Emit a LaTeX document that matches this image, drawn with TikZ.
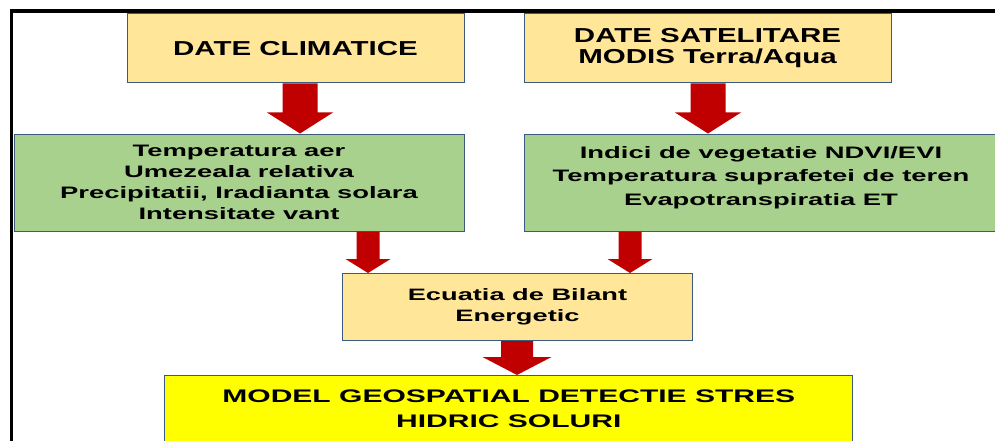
\documentclass[tikz,border=0pt]{standalone}
\usepackage{fontspec}
\setmainfont{Liberation Sans}[FakeStretch=1.65]
\newfontfamily\headfamily{Liberation Sans}[FakeStretch=1.46]
\usetikzlibrary{calc}

\definecolor{boxbeige}{HTML}{FFE699}
\definecolor{boxgreen}{HTML}{A9D18E}
\definecolor{boxyellow}{HTML}{FFFF00}
\definecolor{arrowred}{HTML}{C00000}
\definecolor{boxline}{HTML}{3B5A80}

% Fat red arrow: column, from node, to node, shaft half width, head half width, head length
\newcommand{\redarrow}[6]{%
  \fill[arrowred]
    ($(#2.south -| #1)+(-#4,0)$) -- ($(#2.south -| #1)+(#4,0)$)
    -- ($(#3.north -| #1)+(#4,-#6)$) -- ($(#3.north -| #1)+(#5,-#6)$)
    -- (#3.north -| #1) -- ($(#3.north -| #1)+(-#5,-#6)$)
    -- ($(#3.north -| #1)+(-#4,-#6)$) -- cycle;
}

\begin{document}
\begin{tikzpicture}[x=1pt,y=-1pt,
  box/.style={draw=boxline, line width=1pt, align=center, inner sep=0pt},
  headfont/.style={font=\headfamily\fontsize{20.2}{21}\selectfont\bfseries},
  listfont/.style={font=\fontsize{16.6}{#1}\selectfont\bfseries}]

  % Page
  \useasboundingbox (0,0) rectangle (995,441);
  \clip (0,0) rectangle (995,441);

  % Frame
  \draw[line width=3.5pt] (11.3,450) -- (11.3,10.8) -- (1000,10.8);

%%%%%%%%%%%%%%%%%%%%%%%%%%%%%%%%%%%%%%%%%%
  % Data sources
  \node[box, headfont, fill=boxbeige, minimum width=337pt, minimum height=69pt]
    (climate) at (295.5,48.5) {DATE CLIMATICE};
  \node[box, headfont, fill=boxbeige, minimum width=367pt, minimum height=69pt]
    (satellite) at (707.5,48.5) {DATE SATELITARE\\MODIS Terra/Aqua};

  % Parameters
  \node[box, listfont=20.9, fill=boxgreen, minimum width=450pt, minimum height=97pt]
    (meteo) at (239,182.5)
    {Temperatura aer\\Umezeala relativa\\Precipitatii, Iradianta solara\\Intensitate vant};
  \node[box, listfont=23.3, fill=boxgreen, minimum width=474pt, minimum height=97pt]
    (indices) at (761,182.5)
    {Indici de vegetatie NDVI/EVI\\Temperatura suprafetei de teren\\Evapotranspiratia ET\\[-10pt]\mbox{}};

  % Energy balance
  \node[box, font=\fontsize{16.5}{21}\selectfont\bfseries, fill=boxbeige,
    minimum width=350pt, minimum height=67pt]
    (balance) at (517.5,307) {Ecuatia de Bilant\\Energetic};

  % Result
  \node[box, font=\fontsize{18.2}{25}\selectfont\bfseries, fill=boxyellow,
    minimum width=688pt, minimum height=67pt]
    (model) at (508.8,409) {MODEL GEOSPATIAL DETECTIE STRES\\HIDRIC SOLURI};

%%%%%%%%%%%%%%%%%%%%%%%%%%%%%%%%%%%%%%%%%%
  % Arrow columns
  \coordinate (colA) at (300,0);
  \coordinate (colB) at (708,0);
  \coordinate (colC) at (368,0);
  \coordinate (colD) at (630,0);
  \coordinate (colE) at (517,0);

  \redarrow{colA}{climate}{meteo}{17.5}{33}{21}
  \redarrow{colB}{satellite}{indices}{17.5}{33}{21}
  \redarrow{colC}{meteo}{balance}{11.5}{22.5}{14}
  \redarrow{colD}{indices}{balance}{11.5}{22.5}{14}
  \redarrow{colE}{balance}{model}{16}{34.5}{18}

\end{tikzpicture}
\end{document}
